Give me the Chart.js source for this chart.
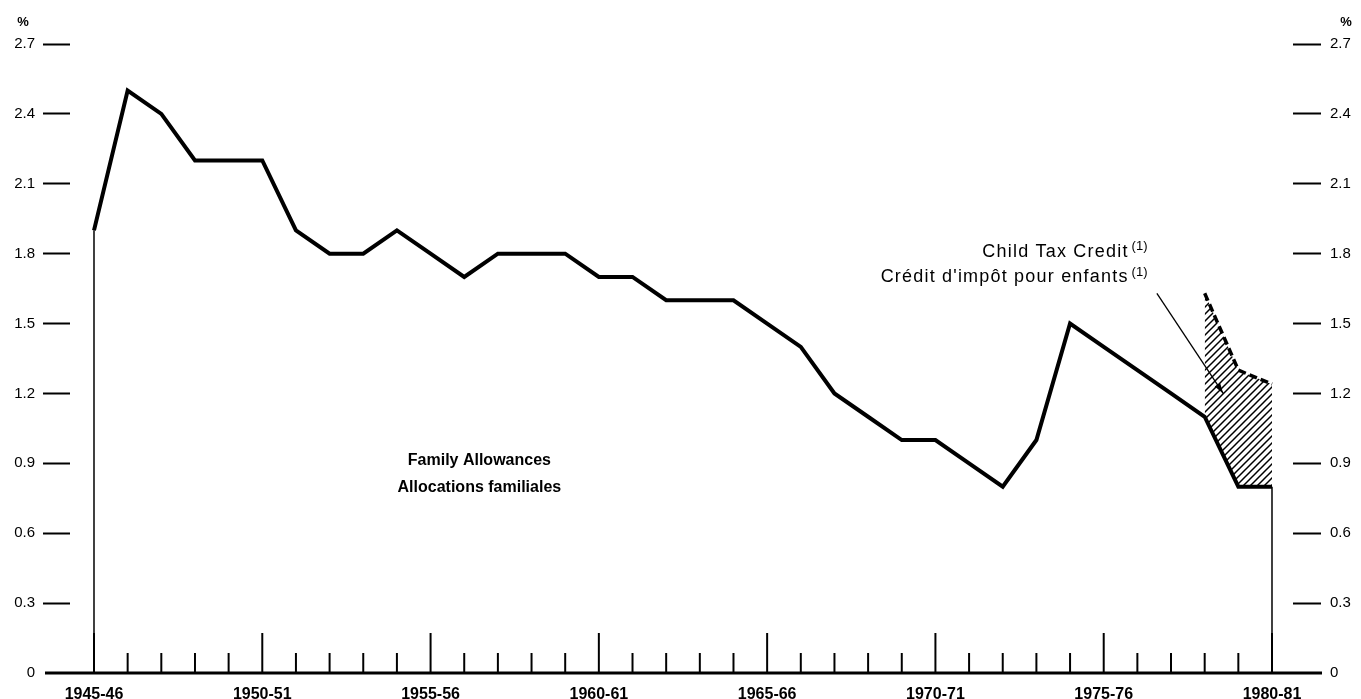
<!DOCTYPE html>
<html>
<head>
<meta charset="utf-8">
<script src="https://cdn.jsdelivr.net/npm/chart.js@4.4.1/dist/chart.umd.min.js"></script>
<style>
  html, body { margin: 0; padding: 0; background: #fff; overflow: hidden; }
  #wrap { width: 1361px; height: 699px; position: relative; }
</style>
</head>
<body>
<div id="wrap"><canvas id="chart"></canvas></div>
<script>
const years = [
  "1945-46", "1946-47", "1947-48", "1948-49", "1949-50",
  "1950-51", "1951-52", "1952-53", "1953-54", "1954-55",
  "1955-56", "1956-57", "1957-58", "1958-59", "1959-60",
  "1960-61", "1961-62", "1962-63", "1963-64", "1964-65",
  "1965-66", "1966-67", "1967-68", "1968-69", "1969-70",
  "1970-71", "1971-72", "1972-73", "1973-74", "1974-75",
  "1975-76", "1976-77", "1977-78", "1978-79", "1979-80",
  "1980-81"
];
// Family allowances, % per fiscal year
const familyAllowances = [
  1.9, 2.5, 2.4, 2.2, 2.2,
  2.2, 1.9, 1.8, 1.8, 1.9,
  1.8, 1.7, 1.8, 1.8, 1.8,
  1.7, 1.7, 1.6, 1.6, 1.6,
  1.5, 1.4, 1.2, 1.1, 1.0,
  1.0, 0.9, 0.8, 1.0, 1.5,
  1.4, 1.3, 1.2, 1.1, 0.8,
  0.8
];
// family allowances + child tax credit (top of hatched area)
const creditYears = ["1978-79", "1979-80", "1980-81"];
const creditTotal = [1.63, 1.3, 1.24];
const yTicks = [0, 0.3, 0.6, 0.9, 1.2, 1.5, 1.8, 2.1, 2.4, 2.7];
const labelledYears = ["1945-46", "1950-51", "1955-56", "1960-61", "1965-66", "1970-71", "1975-76", "1980-81"];

const FONT = '"Liberation Sans", Arial, sans-serif';
Chart.defaults.font.family = FONT;
Chart.defaults.color = "#000";

function makeHatch() {
  const c = document.createElement("canvas");
  c.width = 7; c.height = 7;
  const g = c.getContext("2d");
  g.strokeStyle = "#000";
  g.lineWidth = 1.5;
  g.beginPath();
  g.moveTo(0, 7); g.lineTo(7, 0);
  g.moveTo(-1, 1); g.lineTo(1, -1);
  g.moveTo(6, 8); g.lineTo(8, 6);
  g.stroke();
  return g.createPattern(c, "repeat");
}

const setTicks = (values) => (scale) => {
  scale.ticks = values.map((v) => ({ value: v }));
};

const fmtY = (v) => (v === 0 ? "0" : v.toFixed(1));

// axis line, tick stubs, thin end lines, notes
const decorations = {
  id: "decorations",
  afterDatasetsDraw(chart) {
    const { ctx, chartArea } = chart;
    const x = chart.scales.x;
    const y = chart.scales.y;
    const y0 = y.getPixelForValue(0);
    ctx.save();
    ctx.strokeStyle = "#000";
    ctx.fillStyle = "#000";

    // end verticals
    ctx.lineWidth = 1.5;
    [0, years.length - 1].forEach((i) => {
      const px = x.getPixelForValue(i);
      ctx.beginPath();
      ctx.moveTo(px, y0);
      ctx.lineTo(px, y.getPixelForValue(familyAllowances[i]));
      ctx.stroke();
    });

    // year stubs
    ctx.lineWidth = 2;
    years.forEach((yr, i) => {
      const px = x.getPixelForValue(i);
      const len = labelledYears.includes(yr) ? 40 : 20;
      ctx.beginPath();
      ctx.moveTo(px, y0);
      ctx.lineTo(px, y0 - len);
      ctx.stroke();
    });

    // baseline
    ctx.lineWidth = 3;
    ctx.beginPath();
    ctx.moveTo(chartArea.left - 25, y0);
    ctx.lineTo(chartArea.right + 29, y0);
    ctx.stroke();

    // % units
    ctx.font = "bold 13px " + FONT;
    ctx.textAlign = "center";
    ctx.textBaseline = "middle";
    const pctY = y.getPixelForValue(2.7) - 22;
    ctx.fillText("%", 23, pctY);
    ctx.fillText("%", 1346, pctY);

    // Family allowances label
    ctx.font = "bold 16px " + FONT;
    ctx.fillText("Family Allowances", x.getPixelForValue(11.45), y.getPixelForValue(0.91));
    ctx.fillText("Allocations familiales", x.getPixelForValue(11.45), y.getPixelForValue(0.795));

    // Child tax credit label
    const drawNote = (text, rightX, cy) => {
      ctx.letterSpacing = "0px";
      ctx.font = "13px " + FONT;
      const sw = ctx.measureText("(1)").width;
      ctx.textAlign = "left";
      ctx.fillText("(1)", rightX - sw, cy - 5);
      ctx.font = "18px " + FONT;
      ctx.letterSpacing = "1.2px";
      ctx.textAlign = "right";
      ctx.fillText(text, rightX - sw - 3, cy);
      ctx.letterSpacing = "0px";
    };
    const nx = x.getPixelForValue(31.3);
    drawNote("Child Tax Credit", nx, y.getPixelForValue(1.808));
    drawNote("Crédit d'impôt pour enfants", nx, y.getPixelForValue(1.7));

    // arrow
    const ax1 = x.getPixelForValue(31.58), ay1 = y.getPixelForValue(1.63);
    const ax2 = x.getPixelForValue(33.55), ay2 = y.getPixelForValue(1.2);
    ctx.lineWidth = 1.3;
    ctx.beginPath();
    ctx.moveTo(ax1, ay1);
    ctx.lineTo(ax2, ay2);
    ctx.stroke();
    const ang = Math.atan2(ay2 - ay1, ax2 - ax1);
    ctx.beginPath();
    ctx.moveTo(ax2, ay2);
    ctx.lineTo(ax2 - 11 * Math.cos(ang - 0.3), ay2 - 11 * Math.sin(ang - 0.3));
    ctx.lineTo(ax2 - 11 * Math.cos(ang + 0.3), ay2 - 11 * Math.sin(ang + 0.3));
    ctx.closePath();
    ctx.fill();
    ctx.restore();
  }
};

new Chart(document.getElementById("chart"), {
  type: "line",
  data: {
    datasets: [
      {
        label: "Family Allowances",
        data: familyAllowances.map((v, i) => ({ x: i, y: v })),
        borderColor: "#000",
        borderWidth: 4,
        borderJoinStyle: "miter",
        pointRadius: 0,
        tension: 0,
        fill: false
      },
      {
        label: "Child Tax Credit",
        data: creditTotal.map((v, i) => ({ x: years.indexOf(creditYears[i]), y: v })),
        borderColor: "#000",
        borderWidth: 3.5,
        borderDash: [8, 4],
        backgroundColor: makeHatch(),
        pointRadius: 0,
        tension: 0,
        fill: "-1"
      }
    ]
  },
  options: {
    responsive: true,
    maintainAspectRatio: false,
    animation: false,
    layout: { padding: { top: 44, left: 0, right: 0, bottom: 0 } },
    plugins: { legend: { display: false }, tooltip: { enabled: false } },
    scales: {
      x: {
        type: "linear",
        min: -0.713,
        max: 35.624,
        afterBuildTicks: setTicks(labelledYears.map((l) => years.indexOf(l))),
        afterFit: (s) => { s.height = 26; },
        grid: { display: false, drawTicks: false },
        border: { display: false },
        ticks: {
          padding: 12,
          maxRotation: 0,
          autoSkip: false,
          font: { size: 16, weight: "bold" },
          callback: (v) => years[v]
        }
      },
      y: {
        position: "left",
        min: 0,
        max: 2.7,
        afterBuildTicks: setTicks(yTicks),
        afterFit: (s) => { s.width = 70; },
        grid: {
          drawOnChartArea: false,
          tickLength: 27,
          tickWidth: 2,
          tickColor: (c) => (c.tick && c.tick.value === 0 ? "rgba(0,0,0,0)" : "#000")
        },
        border: { display: false },
        ticks: { padding: 8, font: { size: 15 }, callback: fmtY }
      },
      y2: {
        position: "right",
        min: 0,
        max: 2.7,
        afterBuildTicks: setTicks(yTicks),
        afterFit: (s) => { s.width = 68; },
        grid: {
          drawOnChartArea: false,
          tickLength: 28,
          tickWidth: 2,
          tickColor: (c) => (c.tick && c.tick.value === 0 ? "rgba(0,0,0,0)" : "#000")
        },
        border: { display: false },
        ticks: { padding: 9, font: { size: 15 }, callback: fmtY }
      }
    }
  },
  plugins: [decorations]
});
</script>
</body>
</html>
